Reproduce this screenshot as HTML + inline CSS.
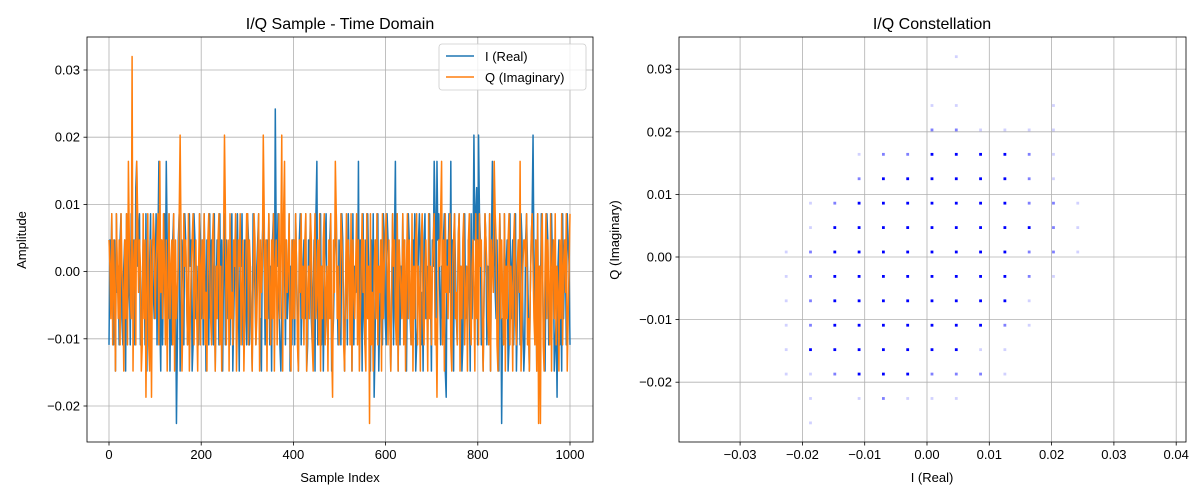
<!DOCTYPE html>
<html><head><meta charset="utf-8"><style>
body{margin:0;background:#fff;}
svg{display:block;font-family:"Liberation Sans","DejaVu Sans",sans-serif;}
</style></head><body>
<svg id="fig" width="1200" height="500" viewBox="0 0 1200 500">
<rect width="1200" height="500" fill="#fff"/>
<g id="left"></g>
<g id="right"></g>
</svg>
<script>
// ----- data -----
const levelBase = 0.0008, levelStep = 0.0039;
const iSeriesCodes =
 "DHGIEDHCIFGDHIEDGHCIEFHDIGEHDJCGHIDEFHGDICHEGIDHFE" +
 "GIDHKECHDGIFDHEICGDHIEGFDHICEHGDIHFDEIGHCDIHEGFDIH" +
 "EHDIGCHFDIEHGDICFHGDIEHCGIDHFEGDHICEGHDIFCHGIDEHGD" +
 "IHDGECIHFDGHIDECHIGDFHEIDGCHIEDHGIFDCEHIGDHEFICGDH" +
 "HDIGECHIDFGHEICDHGIEDFHCIGDEHIDGCFHIEDGHICDEGHIFDH" +
 "GDIHECFHDIGEHCIDGFHEIDHGCIEDHFIGDCHEIGDHFICEGHDIHE" +
 "DIHGECFIDHGEICHDGFIEHDCGIHEDFHGICDEHIGDFCHIEGDHIFC" +
 "HGDIECHIFDGEHICDHGIFEDHCIGEDHIFGCDHIEGDHFCIEGDHIJD" +
 "GIHDECFIHDGEICHDGIFEHDCIGHEDIFGHCDIEGHDFICEHGDIHEC" +
 "DHIGECFHIDGEHCIDGFIHEDCGIHDEFIGHCDEIGHDFCIEGHDIHGD";
const iSpikes = [[73,'A'],[180,'M'],[395,'L'],[400,'L'],[425,'A'],[459,'L'],
 [30,'K'],[62,'K'],[225,'K'],[270,'K'],[310,'K'],[352,'K'],[355,'K'],[370,'K'],[415,'K'],
 [287,'B'],[365,'B'],[485,'B']];
const qSeriesCodes =
 "HGEIDHFCIGEHDIGFCHEIDGHFEICGHDEIFHGCDIEHGFIDCHEGIH" +
 "EGHIDCFHEIGDHCFIEGHDICHEFGIDHCEIGHFDICEGHIDFHECGID" +
 "GHEIDFCHIGEDHIFCGEHIDGCFHEIDGHCIEFDHGICEHGIDFHCEGI" +
 "IDHGECFIHDEGICHFGDIEHCGIFDHEICGHDFIEHGCIDEHFGIDCHE" +
 "HEIGDCHFIEGDHICFGEIHDCGIEFHDICGEHIDFGCHEIDGHFCIEGD" +
 "EIHGDCFIEHGDICHFEGIDHCEGIFHDCIEGHIDFCGHEIDGFHCIEGH" +
 "IGDHECFIGHEDICHGFEIDHCGIEHFDICGEHIDGFCHIEDGHFCIEGD" +
 "GHIDECFHGIEDHCIFGEHIDCGHIEFDHICGEHIDFGCHIEDGHFCIEH" +
 "DIGHECFIHGEDICHGFEIHDCGIEHFDICGEHIDGFCHIEDGHFICEGH" +
 "HGIDECFHIGEDHCIFGEHIDCGIEHFDICGHEIDGFCHEIDGHFICEGI";
const qSpikes = [[25,'O'],[77,'L'],[125,'L'],[167,'L'],[187,'L'],
 [21,'K'],[30,'K'],[55,'K'],[190,'K'],[245,'K'],[360,'K'],[417,'K'],[445,'K'],
 [40,'B'],[46,'B'],[242,'B'],[355,'B'],[282,'A'],[465,'A'],[467,'A']];
const timeXTicks = [0,200,400,600,800,1000];
const timeYTicks = [-0.02,-0.01,0.00,0.01,0.02,0.03];
const constXTicks = [-0.03,-0.02,-0.01,0.00,0.01,0.02,0.03,0.04];
const constYTicks = [-0.02,-0.01,0.00,0.01,0.02,0.03];
// constellation points: [I level index, Q level index, density 1=faint 2=medium 3=strong]
const constPoints = [
[1,8,1],
[0,6,1],[1,6,1],[5,6,1],
[0,5,2],[1,5,2],[2,5,1],[3,5,1],[4,5,1],[5,5,1],
[-3,4,1],[-2,4,2],[-1,4,2],[0,4,3],[1,4,3],[2,4,3],[3,4,3],[4,4,2],[5,4,1],
[-3,3,2],[-2,3,3],[-1,3,3],[0,3,3],[1,3,3],[2,3,3],[3,3,3],[4,3,2],[5,3,1],
[-5,2,1],[-4,2,2],[-3,2,3],[-2,2,3],[-1,2,3],[0,2,3],[1,2,3],[2,2,3],[3,2,3],[4,2,2],[5,2,2],[6,2,1],
[-5,1,1],[-4,1,3],[-3,1,3],[-2,1,3],[-1,1,3],[0,1,3],[1,1,3],[2,1,3],[3,1,3],[4,1,3],[5,1,2],[6,1,1],
[-6,0,1],[-5,0,2],[-4,0,3],[-3,0,3],[-2,0,3],[-1,0,3],[0,0,3],[1,0,3],[2,0,3],[3,0,3],[4,0,2],[5,0,2],[6,0,1],
[-6,-1,1],[-5,-1,2],[-4,-1,3],[-3,-1,3],[-2,-1,3],[-1,-1,3],[0,-1,3],[1,-1,3],[2,-1,3],[3,-1,3],[4,-1,2],[5,-1,1],
[-6,-2,1],[-5,-2,2],[-4,-2,3],[-3,-2,3],[-2,-2,3],[-1,-2,3],[0,-2,3],[1,-2,3],[2,-2,3],[3,-2,3],[4,-2,1],
[-6,-3,1],[-5,-3,2],[-4,-3,3],[-3,-3,3],[-2,-3,3],[-1,-3,3],[0,-3,3],[1,-3,3],[2,-3,3],[3,-3,2],[4,-3,1],
[-6,-4,1],[-5,-4,3],[-4,-4,3],[-3,-4,3],[-2,-4,3],[-1,-4,3],[0,-4,3],[1,-4,3],[2,-4,1],[3,-4,1],
[-6,-5,1],[-5,-5,1],[-4,-5,2],[-3,-5,3],[-2,-5,3],[-1,-5,3],[0,-5,2],[1,-5,2],[2,-5,2],[3,-5,1],
[-5,-6,1],[-3,-6,1],[-2,-6,2],[-1,-6,1],[0,-6,1],[1,-6,1],
[-5,-7,1]
];
const densityAlpha = [0,0.18,0.5,1];

// ----- helpers -----
const NS="http://www.w3.org/2000/svg";
function mk(parent,tag,attrs,text){const e=document.createElementNS(NS,tag);for(const k in attrs)e.setAttribute(k,attrs[k]);if(text!==undefined)e.textContent=text;parent.appendChild(e);return e;}
function lvl(ch){return levelBase+levelStep*(ch.charCodeAt(0)-71);}
function fmt(v,d){const s=Math.abs(v).toFixed(d);return (v< -1e-9?"\u2212":"")+s;}
function applySpikes(codes,spikes){const a=codes.split('');for(const s of spikes){if(s[0]<a.length)a[s[0]]=s[1];}return a;}

// ----- left chart -----
const L=document.getElementById('left');
const lx0=87,lx1=593,ly0=37,ly1=442;
const xL=v=>109+v*(570-109)/1000;
const yL=v=>271.6-v*6720;
for(const t of timeXTicks){
  const g=mk(L,'line',{x1:xL(t),x2:xL(t),y1:ly0,y2:ly1,stroke:'#b0b0b0','stroke-width':0.8});
  
  mk(L,'line',{x1:xL(t),x2:xL(t),y1:ly1,y2:ly1+3.5,stroke:'#000','stroke-width':0.8});
  const tx=mk(L,'text',{x:xL(t),y:ly1+17,'font-size':13,'text-anchor':'middle'},String(t));
  
}
for(const t of timeYTicks){
  const g=mk(L,'line',{x1:lx0,x2:lx1,y1:yL(t),y2:yL(t),stroke:'#b0b0b0','stroke-width':0.8});
  
  mk(L,'line',{x1:lx0-3.5,x2:lx0,y1:yL(t),y2:yL(t),stroke:'#000','stroke-width':0.8});
  const tx=mk(L,'text',{x:lx0-7,y:yL(t)+4.5,'font-size':13,'text-anchor':'end'},fmt(t,2));
  
}
function seriesPath(codes){const n=codes.length;let d='';for(let i=0;i<n;i++){d+=(i?'L':'M')+xL(i*1000/(n-1)).toFixed(2)+','+yL(lvl(codes[i])).toFixed(2);}return d;}
const pI=mk(L,'path',{d:seriesPath(applySpikes(iSeriesCodes,iSpikes)),fill:'none',stroke:'#1f77b4','stroke-width':1.5,'stroke-linejoin':'round'});

const pQ=mk(L,'path',{d:seriesPath(applySpikes(qSeriesCodes,qSpikes)),fill:'none',stroke:'#ff7f0e','stroke-width':1.5,'stroke-linejoin':'round'});

mk(L,'rect',{x:lx0,y:ly0,width:lx1-lx0,height:ly1-ly0,fill:'none',stroke:'#000','stroke-width':0.8});
let t=mk(L,'text',{x:340,y:29,'font-size':16,'text-anchor':'middle'},'I/Q Sample - Time Domain');

t=mk(L,'text',{x:340,y:482,'font-size':13,'text-anchor':'middle'},'Sample Index');

t=mk(L,'text',{x:26,y:240,'font-size':13,'text-anchor':'middle',transform:'rotate(-90 26 240)'},'Amplitude');

const lg=mk(L,'g',{});

mk(lg,'rect',{x:439,y:44,width:147,height:46,rx:3,fill:'#fff','fill-opacity':0.8,stroke:'#ccc','stroke-width':0.8});
mk(lg,'line',{x1:446,x2:474,y1:56,y2:56,stroke:'#1f77b4','stroke-width':1.5});
t=mk(lg,'text',{x:485,y:61,'font-size':13},'I (Real)');

mk(lg,'line',{x1:446,x2:474,y1:77,y2:77,stroke:'#ff7f0e','stroke-width':1.5});
t=mk(lg,'text',{x:485,y:82,'font-size':13},'Q (Imaginary)');


// ----- right chart -----
const R=document.getElementById('right');
const rx0=679,rx1=1186,ry0=37,ry1=442;
const xR=v=>927+v*6230;
const yR=v=>257-v*6260;
for(const t2 of constXTicks){
  const g=mk(R,'line',{x1:xR(t2),x2:xR(t2),y1:ry0,y2:ry1,stroke:'#b0b0b0','stroke-width':0.8});
  
  mk(R,'line',{x1:xR(t2),x2:xR(t2),y1:ry1,y2:ry1+3.5,stroke:'#000','stroke-width':0.8});
  const tx=mk(R,'text',{x:xR(t2),y:ry1+17,'font-size':13,'text-anchor':'middle'},fmt(t2,2));
  
}
for(const t2 of constYTicks){
  const g=mk(R,'line',{x1:rx0,x2:rx1,y1:yR(t2),y2:yR(t2),stroke:'#b0b0b0','stroke-width':0.8});
  
  mk(R,'line',{x1:rx0-3.5,x2:rx0,y1:yR(t2),y2:yR(t2),stroke:'#000','stroke-width':0.8});
  const tx=mk(R,'text',{x:rx0-7,y:yR(t2)+4.5,'font-size':13,'text-anchor':'end'},fmt(t2,2));
  
}
for(const p of constPoints){
  const cx=xR(levelBase+levelStep*p[0]), cy=yR(levelBase+levelStep*p[1]);
  const r=mk(R,'rect',{x:cx-1.4,y:cy-1.4,width:2.8,height:2.8,fill:'#0000ff','fill-opacity':densityAlpha[p[2]]});
  
  
}
mk(R,'rect',{x:rx0,y:ry0,width:rx1-rx0,height:ry1-ry0,fill:'none',stroke:'#000','stroke-width':0.8});
t=mk(R,'text',{x:932,y:29,'font-size':16,'text-anchor':'middle'},'I/Q Constellation');

t=mk(R,'text',{x:932,y:482,'font-size':13,'text-anchor':'middle'},'I (Real)');

t=mk(R,'text',{x:619,y:240,'font-size':13,'text-anchor':'middle',transform:'rotate(-90 619 240)'},'Q (Imaginary)');

</script>
</body></html>
